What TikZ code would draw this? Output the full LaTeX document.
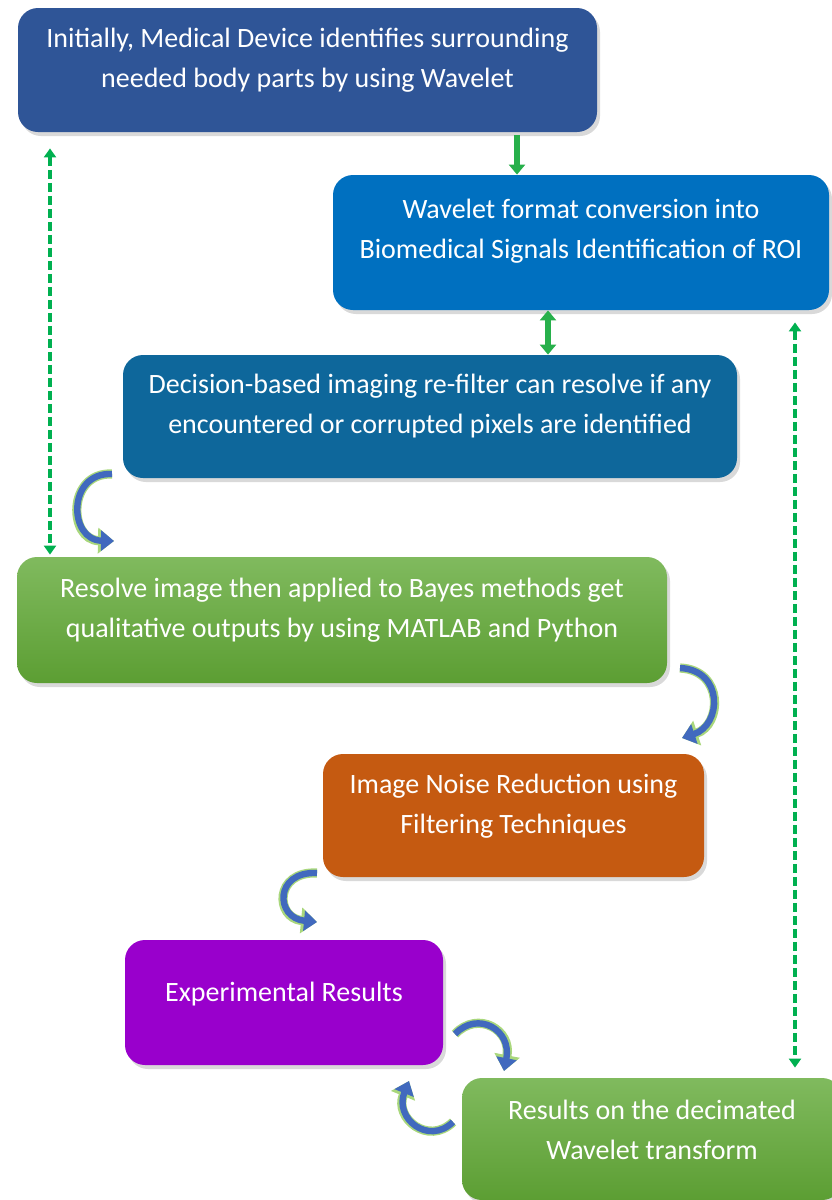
\documentclass[tikz,border=0pt]{standalone}
\usepackage{fontspec}
\setmainfont{Carlito}
\usetikzlibrary{arrows.meta,shadows}

\definecolor{navy}{HTML}{2F5597}
\definecolor{ocean}{HTML}{0070C0}
\definecolor{petrol}{HTML}{0E679B}
\definecolor{leafhi}{HTML}{80BA5E}
\definecolor{leaflo}{HTML}{5C9E33}
\definecolor{rust}{HTML}{C55A11}
\definecolor{violet}{HTML}{9900CC}
\definecolor{flowgreen}{HTML}{27B04B}
\definecolor{linkgreen}{HTML}{00B050}
\definecolor{turnblue}{HTML}{4169BE}
\definecolor{rimgreen}{HTML}{A9D77C}

\begin{document}
\begin{tikzpicture}[
  x=0.5pt, y=-0.5pt,
  font=\fontsize{14}{20}\selectfont,
  box/.style={rectangle, rounded corners=10pt, draw=none, inner sep=0pt,
              drop shadow={opacity=0.3, shadow xshift=1.5pt, shadow yshift=-2pt}},
  leaf/.style={box, top color=leafhi, bottom color=leaflo},
  txt/.style={text=white, align=center, inner sep=0pt},
  flow/.style={line width=3pt, draw=flowgreen},
  link/.style={{Triangle[length=4.5pt,width=6pt]}-{Triangle[length=4.5pt,width=6pt]},
               line width=1.6pt, draw=linkgreen, dash pattern=on 4.5pt off 2pt},
  turn/.style={line width=3.2pt, draw=turnblue, -{Triangle[length=6.5pt,width=10pt]},
               preaction={draw=rimgreen, line width=4.6pt,
                          -{Triangle[length=8pt,width=12.5pt]}}},
]
\useasboundingbox (0,0) rectangle (831,1200);

% --- process boxes ---
\node[box, fill=navy, minimum width=289.5pt, minimum height=62pt] (init) at (307.5,70) {};
\node[txt] (init-t) at ([yshift=5pt]init.center)
  {Initially, Medical Device identifies surrounding\\needed body parts by using Wavelet};

\node[box, fill=ocean, minimum width=248pt, minimum height=67.5pt] (conv) at (581,242.5) {};
\node[txt] (conv-t) at ([yshift=5.5pt]conv.center)
  {Wavelet format conversion into\\Biomedical Signals Identification of ROI};

\node[box, fill=petrol, minimum width=307pt, minimum height=61.5pt] (refilt) at (430,416.5) {};
\node[txt] (refilt-t) at ([yshift=5pt]refilt.center)
  {Decision-based imaging re-filter can resolve if any\\encountered or corrupted pixels are identified};

\node[leaf, minimum width=325pt, minimum height=63pt] (bayes) at (342,620) {};
\node[txt] (bayes-t) at ([yshift=5pt]bayes.center)
  {Resolve image then applied to Bayes methods get\\qualitative outputs by using MATLAB and Python};

\node[box, fill=rust, minimum width=190.5pt, minimum height=61.5pt] (noise) at (513.5,815.5) {};
\node[txt] (noise-t) at ([yshift=4.5pt]noise.center)
  {Image Noise Reduction using\\Filtering Techniques};

\node[box, fill=violet, minimum width=159pt, minimum height=62.5pt] (expt) at (284,1002.5) {};
\node[txt] (expt-t) at ([yshift=4pt]expt.center) {Experimental Results};

\node[leaf, minimum width=190pt, minimum height=61pt] (decim) at (652,1139) {};
\node[txt] (decim-t) at ([yshift=4.5pt]decim.center)
  {Results on the decimated\\Wavelet transform};

% --- straight green arrows ---
\coordinate (fx1) at (517,0);
\coordinate (fx2) at (548,0);
\draw[flow, shorten <=1.5pt, -{Triangle[length=5pt,width=8pt]}]
  (init.south -| fx1) -- (conv.north -| fx1);
\draw[flow, {Triangle[length=5pt,width=8pt]}-{Triangle[length=5pt,width=8pt]}]
  (conv.south -| fx2) -- (refilt.north -| fx2);

% --- dotted feedback links ---
\coordinate (lx) at (50,0);
\coordinate (rx) at (795,0);
\draw[link, shorten <=8pt, shorten >=1pt] (init.south -| lx) -- (bayes.north -| lx);
\draw[link, shorten <=6pt, shorten >=5pt] (conv.south -| rx) -- (decim.north -| rx);

% --- curved step arrows ---
\coordinate (a0) at (112,474);  \coordinate (a1) at (114,541);
\coordinate (b0) at (680,668);  \coordinate (b1) at (682,738);
\coordinate (c0) at (317,873);  \coordinate (c1) at (317,922);
\coordinate (d0) at (455,1034); \coordinate (d1) at (504,1071);
\coordinate (e0) at (453,1122); \coordinate (e1) at (409,1081);
\draw[turn] (a0) .. controls (67,472) and (68,540) .. (a1);
\draw[turn] (b0) .. controls (724,670) and (722,725) .. (b1);
\draw[turn] (c0) .. controls (274,871) and (275,918) .. (c1);
\draw[turn] (d0) .. controls (478,1010) and (512,1030) .. (d1);
\draw[turn] (e0) .. controls (428,1146) and (394,1118) .. (e1);
\end{tikzpicture}
\end{document}
